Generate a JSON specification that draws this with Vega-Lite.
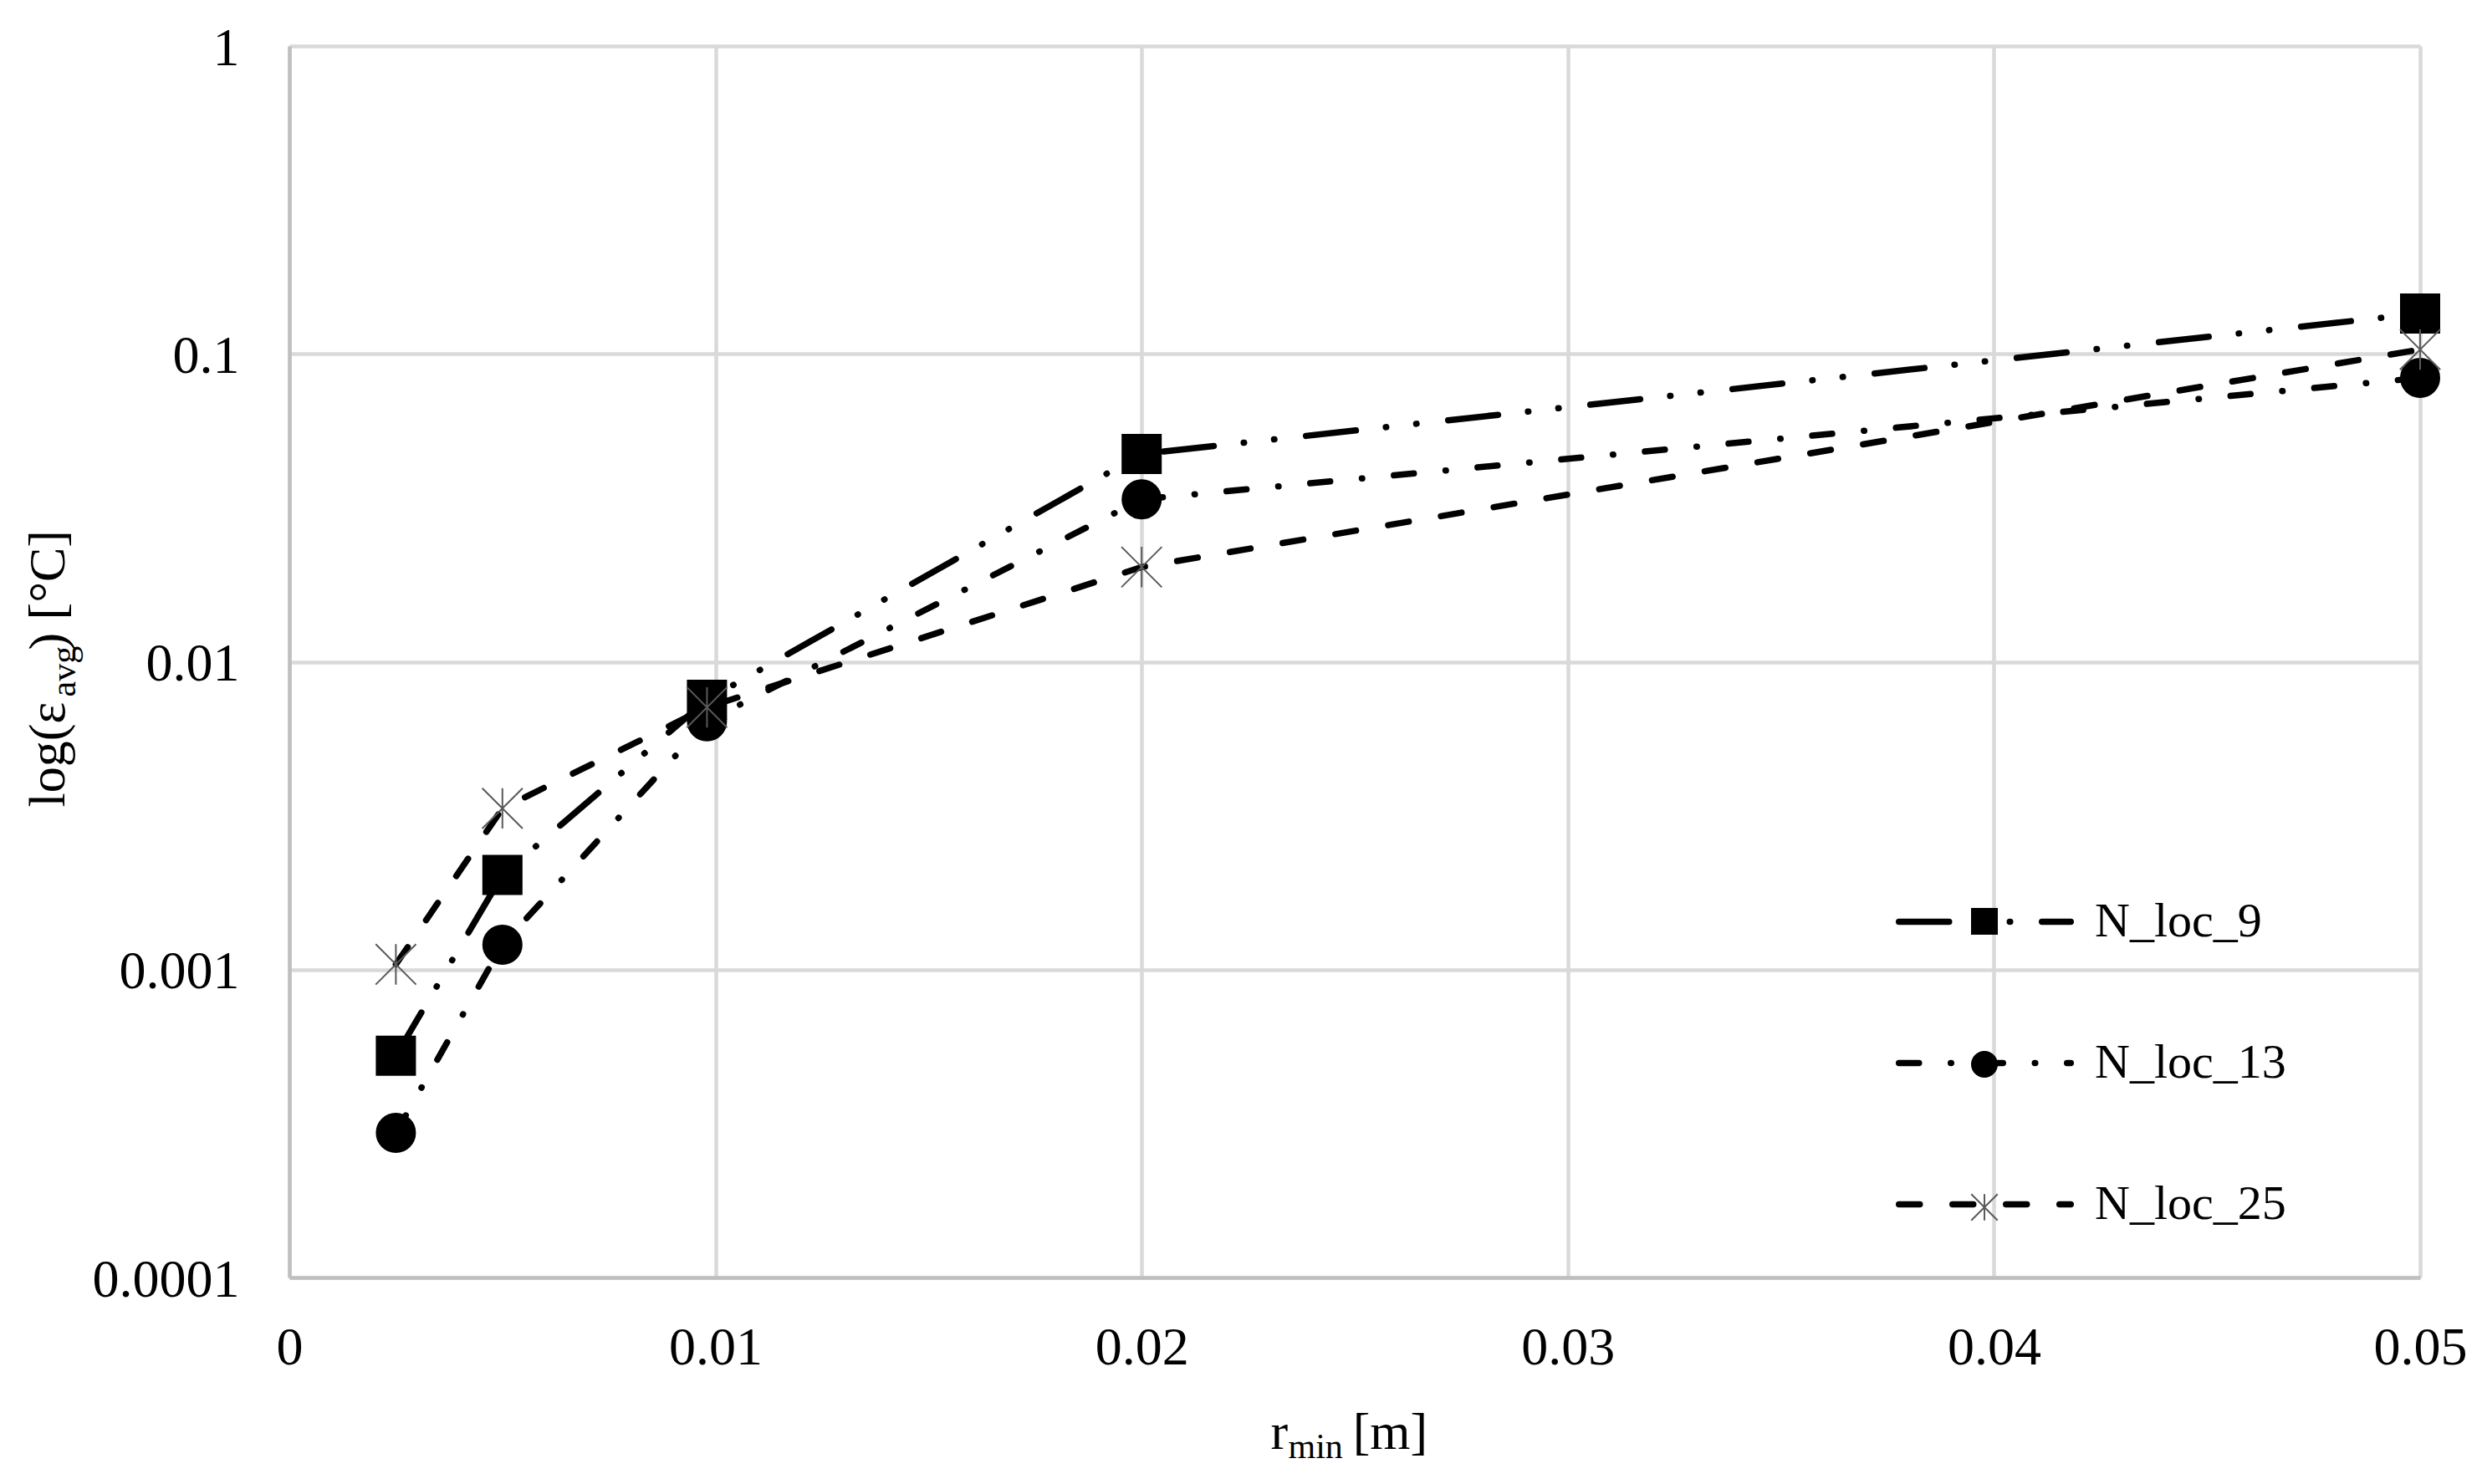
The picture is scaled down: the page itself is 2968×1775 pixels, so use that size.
{
  "$schema": "https://vega.github.io/schema/vega-lite/v6.json",
  "width": 2548,
  "height": 1473,
  "autosize": "none",
  "padding": {"left": 346, "top": 55, "right": 74, "bottom": 247},
  "background": "white",
  "config": {
    "view": {"stroke": null},
    "font": "Liberation Serif",
    "axis": {"labelFont": "Liberation Serif", "titleFont": "Liberation Serif", "labelColor": "black", "titleColor": "black", "titleFontWeight": "normal"},
    "legend": {"labelFont": "Liberation Serif", "labelColor": "black", "labelLimit": 600}
  },
  "data": {
    "values": [
      {"series": "N_loc_9", "r": 0.0025, "eps": 0.000525},
      {"series": "N_loc_9", "r": 0.005, "eps": 0.00203},
      {"series": "N_loc_9", "r": 0.0098, "eps": 0.00752},
      {"series": "N_loc_9", "r": 0.02, "eps": 0.0473},
      {"series": "N_loc_9", "r": 0.05, "eps": 0.1352},
      {"series": "N_loc_13", "r": 0.0025, "eps": 0.000295},
      {"series": "N_loc_13", "r": 0.005, "eps": 0.001205},
      {"series": "N_loc_13", "r": 0.0098, "eps": 0.0064},
      {"series": "N_loc_13", "r": 0.02, "eps": 0.0337},
      {"series": "N_loc_13", "r": 0.05, "eps": 0.0835},
      {"series": "N_loc_25", "r": 0.0025, "eps": 0.00104},
      {"series": "N_loc_25", "r": 0.005, "eps": 0.00334},
      {"series": "N_loc_25", "r": 0.0098, "eps": 0.00711},
      {"series": "N_loc_25", "r": 0.02, "eps": 0.0203},
      {"series": "N_loc_25", "r": 0.05, "eps": 0.1033}
    ]
  },
  "resolve": {"axis": {"x": "independent", "y": "independent"}},
  "layer": [
    {
      "mark": {"type": "line", "color": "black", "strokeWidth": 7.5, "strokeCap": "round", "strokeJoin": "round"},
      "encoding": {
        "x": {
          "field": "r", "type": "quantitative",
          "scale": {"domain": [0, 0.05], "nice": false, "zero": true},
          "axis": {
            "values": [0, 0.01, 0.02, 0.03, 0.04, 0.05],
            "labelExpr": "datum.value == 0 ? '0' : format(datum.value, '.2f')",
            "labelFontSize": 64, "labelPadding": 52, "labelFlush": false, "labelOverlap": false, "labelBound": false,
            "ticks": false, "tickSize": 0,
            "grid": true, "gridColor": "#d9d9d9", "gridWidth": 4.5,
            "domain": true, "domainColor": "#bfbfbf", "domainWidth": 4.5,
            "title": "r\u00a0\u00a0\u00a0\u00a0\u00a0[m]",
            "titleFontSize": 62, "titleAlign": "left", "titleBaseline": "alphabetic", "titleAngle": 0,
            "titleX": 1173, "titleY": 204
          }
        },
        "y": {
          "field": "eps", "type": "quantitative",
          "scale": {"type": "log", "domain": [0.0001, 1], "nice": false},
          "axis": {
            "values": [0.0001, 0.001, 0.01, 0.1, 1],
            "labelExpr": "datum.value >= 1 ? '1' : datum.value >= 0.1 ? '0.1' : datum.value >= 0.01 ? '0.01' : datum.value >= 0.001 ? '0.001' : '0.0001'",
            "labelFontSize": 64, "labelPadding": 60, "labelOffset": 3, "labelOverlap": false, "labelBound": false, "labelFlush": false,
            "ticks": false, "tickSize": 0,
            "grid": true, "gridColor": "#d9d9d9", "gridWidth": 4.5,
            "domain": true, "domainColor": "#bfbfbf", "domainWidth": 4.5,
            "title": "log(\u03b5\u00a0\u00a0\u00a0\u00a0) [\u00b0C]",
            "titleFontSize": 62, "titleAlign": "left", "titleBaseline": "alphabetic", "titleAngle": 270,
            "titleX": -270, "titleY": 910
          }
        },
        "strokeDash": {
          "field": "series", "type": "nominal",
          "sort": ["N_loc_9", "N_loc_13", "N_loc_25"],
          "scale": {"range": [[60, 36, 0.5, 36, 0.5, 38], [24, 38, 0.5, 38], [25, 39]]},
          "legend": {
            "title": null, "orient": "none", "legendX": 1921, "legendY": 941, "padding": 0,
            "symbolType": "stroke", "symbolSize": 42230, "symbolStrokeWidth": 7.5, "symbolStrokeColor": "black",
            "labelFontSize": 58, "labelOffset": 25, "labelLimit": 600, "rowPadding": 33,
            "encode": {"symbols": {"update": {"strokeCap": {"value": "round"}}}}
          }
        }
      }
    },
    {
      "mark": {"type": "point", "size": 2116, "strokeWidth": 2, "opacity": 1, "fillOpacity": 1, "strokeOpacity": 1},
      "encoding": {
        "x": {
          "field": "r", "type": "quantitative",
          "scale": {"domain": [0, 0.05], "nice": false, "zero": true},
          "axis": {
            "orient": "top", "labels": false, "ticks": false, "domain": false, "grid": false,
            "title": "min", "titleFontSize": 42, "titleAlign": "left", "titleBaseline": "alphabetic", "titleAngle": 0,
            "titleX": 1194, "titleY": 1688
          }
        },
        "y": {
          "field": "eps", "type": "quantitative",
          "scale": {"type": "log", "domain": [0.0001, 1], "nice": false},
          "axis": {
            "orient": "right", "labels": false, "ticks": false, "domain": false, "grid": false,
            "title": "avg", "titleFontSize": 42, "titleAlign": "left", "titleBaseline": "alphabetic", "titleAngle": 270,
            "titleX": -2805, "titleY": 778
          }
        },
        "shape": {
          "field": "series", "type": "nominal",
          "scale": {"domain": ["N_loc_9", "N_loc_13", "N_loc_25"], "range": ["square", "circle", "M0,-1.05L0,1.05M-1.05,-1.05L1.05,1.05M-1.05,1.05L1.05,-1.05"]},
          "legend": {
            "title": null, "orient": "none", "legendX": 1998, "legendY": 1018, "padding": 0,
            "symbolSize": 900, "symbolStrokeWidth": 2,
            "labelFontSize": 58, "labelExpr": "''", "labelLimit": 600, "rowPadding": 113
          }
        },
        "fill": {
          "field": "series", "type": "nominal",
          "scale": {"domain": ["N_loc_9", "N_loc_13", "N_loc_25"], "range": ["black", "black", "transparent"]},
          "legend": null
        },
        "stroke": {
          "field": "series", "type": "nominal",
          "scale": {"domain": ["N_loc_9", "N_loc_13", "N_loc_25"], "range": ["black", "black", "#5a5a5a"]},
          "legend": null
        }
      }
    }
  ]
}
